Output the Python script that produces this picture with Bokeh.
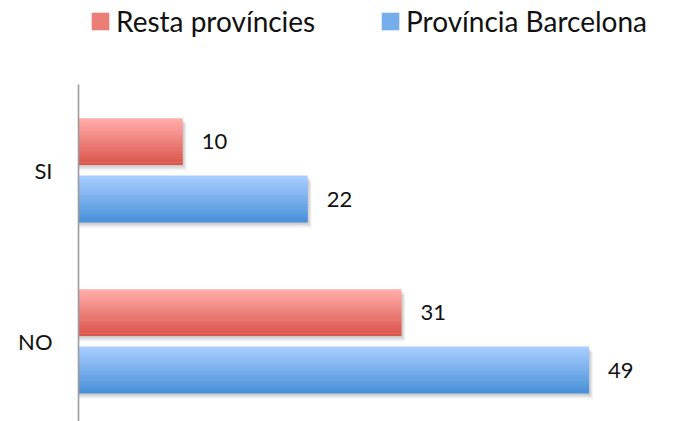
from bokeh.plotting import figure
from bokeh.models import (ColumnDataSource, Range1d, FixedTicker, Legend, LegendItem)
from bokeh.core.properties import value
from bokeh.embed import file_html
from bokeh.resources import INLINE

categories = ["SI", "NO"]              # top to bottom
series_names = ["Resta províncies", "Província Barcelona"]
resta = [10, 31]
barcelona = [22, 49]

# styling
top_colors = [(255, 172, 170), (168, 205, 255)]
bot_colors = [(219, 86, 76), (74, 145, 217)]
offsets = [0.168, -0.168]
bar_h = 0.272
N = 18
FONT = "Lato"
Y_LO, Y_AX_TOP, Y_TOP = -0.468, 1.503, 1.994

ncat = len(categories)
pos = {c: ncat - 1 - i for i, c in enumerate(categories)}

p = figure(width=674, height=421, output_backend="svg", toolbar_location=None,
           x_range=Range1d(0, 57.2), y_range=Range1d(Y_LO, Y_TOP),
           x_axis_location=None, y_axis_location="left",
           min_border_left=78, min_border_right=0, min_border_top=0,
           min_border_bottom=0)
p.outline_line_color = None
p.grid.visible = False
p.background_fill_color = "white"
p.border_fill_color = "white"

def hexc(c):
    return "#%02x%02x%02x" % tuple(int(round(v)) for v in c)

renderers = []
mid_index = []
for s, vals in enumerate([resta, barcelona]):
    # shadow
    sh = dict(y=[], right=[], height=[])
    for cat, v in zip(categories, vals):
        yc = pos[cat] + offsets[s]
        for j in range(1, 5):
            sh["y"].append(yc - j * 0.0075)
            sh["right"].append(v + j * 0.09)
            sh["height"].append(bar_h)
    p.hbar(y="y", left=0, right="right", height="height",
           source=ColumnDataSource(sh), fill_color="black", fill_alpha=0.055,
           line_color=None)
    d = dict(y=[], right=[], height=[], color=[])
    for cat, v in zip(categories, vals):
        yc = pos[cat] + offsets[s]
        h = bar_h / N
        for k in range(N):
            t = k / (N - 1)
            col = [top_colors[s][i] + (bot_colors[s][i] - top_colors[s][i]) * t for i in range(3)]
            d["y"].append(yc + bar_h / 2 - (k + 0.5) * h)
            d["right"].append(v)
            d["height"].append(h * 1.25 if k < N - 1 else h)
            d["color"].append(hexc(col))
    r = p.hbar(y="y", left=0, right="right", height="height",
               source=ColumnDataSource(d), fill_color="color", line_color=None)
    renderers.append(r)
    mid_index.append(N // 2)
    # value labels
    p.text(x=vals, y=[pos[c] + offsets[s] for c in categories],
           text=[str(v) for v in vals], x_offset=19,
           text_baseline="middle", text_align="left",
           text_font=value(FONT), text_font_size="22px", text_color="#111111")

ax = p.yaxis[0]
ax.bounds = (Y_LO, Y_AX_TOP)
ax.ticker = FixedTicker(ticks=[pos[c] for c in categories])
ax.major_label_overrides = {pos[c]: c for c in categories}
ax.major_label_text_font = FONT
ax.major_label_text_font_size = "22px"
ax.major_label_text_color = "#111111"
ax.major_label_standoff = 26
ax.major_tick_line_color = None
ax.minor_tick_line_color = None
ax.major_tick_out = 0
ax.axis_line_color = "#9c9c9c"
ax.axis_line_width = 1.6

leg_locs = [(11, 383), (301, 383)]
for s in range(2):
    lg = Legend(items=[LegendItem(label=series_names[s], renderers=[renderers[s]],
                                  index=mid_index[s])],
                location=leg_locs[s], padding=0, margin=0,
                glyph_width=22, glyph_height=22, label_standoff=5,
                label_text_font=FONT, label_text_font_size="28px",
                label_text_color="#111111",
                border_line_color=None, background_fill_alpha=0)
    p.add_layout(lg)

open("out.html", "w").write(file_html(p, INLINE))
